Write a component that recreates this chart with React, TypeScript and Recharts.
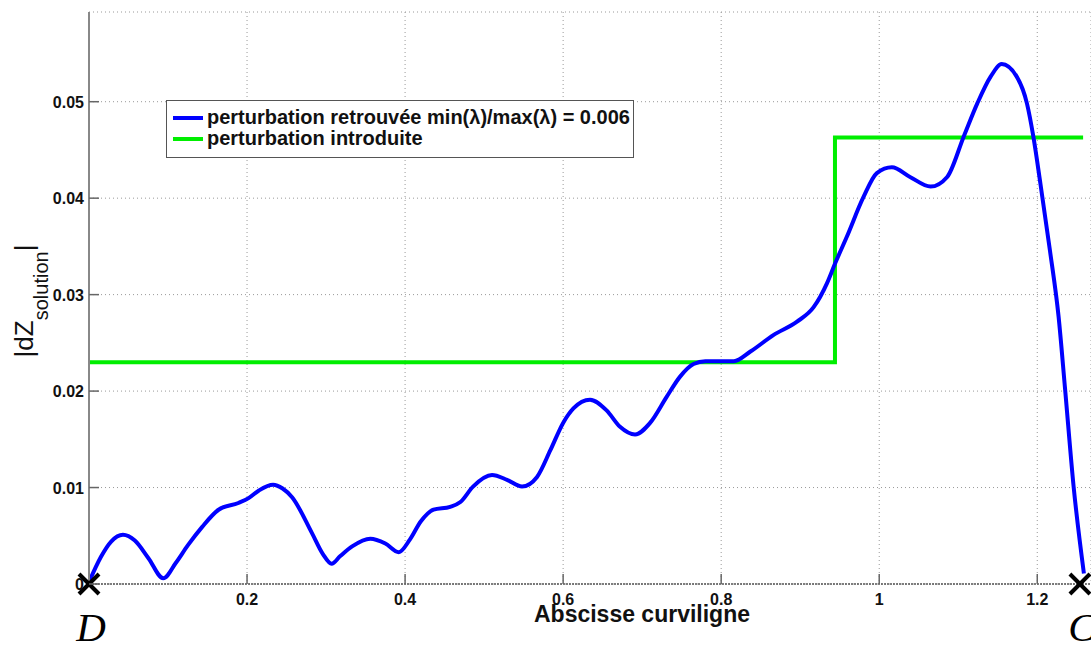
import React from 'react';
import { ComposedChart, Line, Scatter, XAxis, YAxis, CartesianGrid, Legend } from 'recharts';

// abscisse curviligne / |dZ|
const retrouveeX = [
  0, 0.015, 0.028, 0.043, 0.058, 0.075, 0.094, 0.11, 0.125, 0.143, 0.164, 0.189, 0.202, 0.215, 0.233,
  0.245, 0.257, 0.282, 0.296, 0.307, 0.318, 0.333, 0.356, 0.375, 0.392, 0.406, 0.42, 0.436, 0.457, 0.47,
  0.486, 0.51, 0.529, 0.548, 0.567, 0.584, 0.6, 0.613, 0.634, 0.655, 0.672, 0.691, 0.71, 0.731, 0.748,
  0.765, 0.78, 0.816, 0.837, 0.866, 0.896, 0.917, 0.934, 0.944, 0.959, 0.98, 0.997, 1.016, 1.039, 1.065,
  1.086, 1.107, 1.124, 1.141, 1.155, 1.174, 1.187, 1.195, 1.204, 1.216, 1.227, 1.235, 1.246, 1.259,
];
const retrouveeY = [
  0.0002, 0.0028, 0.0044, 0.0051, 0.0045, 0.0027, 0.0006, 0.0022, 0.004, 0.0059, 0.0077, 0.0084, 0.0089, 0.0097, 0.0103,
  0.0099, 0.009, 0.0053, 0.0031, 0.0021, 0.0029, 0.0039, 0.0047, 0.0042, 0.0033, 0.0046, 0.0065, 0.0077, 0.008, 0.0085,
  0.0101, 0.0113, 0.0108, 0.0101, 0.0111, 0.0139, 0.0167, 0.0182, 0.0191, 0.018, 0.0163, 0.0155, 0.0167, 0.0194, 0.0215,
  0.0228, 0.0231, 0.0231, 0.0241, 0.0258, 0.0272, 0.0287, 0.0312, 0.0332, 0.036, 0.0401, 0.0426, 0.0432, 0.0422, 0.0412,
  0.0422, 0.0464, 0.0498, 0.0526, 0.0539, 0.0526, 0.0498, 0.0464, 0.0415, 0.0346, 0.0277, 0.0204, 0.0101, 0.0011,
];

const introduiteX = [0, 0.944, 0.944, 1.258];
const introduiteY = [0.023, 0.023, 0.0463, 0.0463];

const pointNames = ['D', 'C'];
const pointX = [0, 1.254];

const xTicks = [0.2, 0.4, 0.6, 0.8, 1, 1.2];
const xTickLabels = ['0.2', '0.4', '0.6', '0.8', '1', '1.2'];
const yTicks = [0, 0.01, 0.02, 0.03, 0.04, 0.05];
const yTickLabels = ['0', '0.01', '0.02', '0.03', '0.04', '0.05'];

const retrouvee = retrouveeX.map((x, i) => ({ x, y: retrouveeY[i] }));
const introduite = introduiteX.map((x, i) => ({ x, y: introduiteY[i] }));
const points = pointX.map((x, i) => ({ x, y: 0, name: pointNames[i] }));

const SANS = '"Liberation Sans", Arial, sans-serif';

const XTick = (props: any) => {
  const { x, y, payload } = props;
  const i = xTicks.indexOf(payload.value);
  return (
    <g>
      <line x1={x} x2={x} y1={y} y2={y - 10} stroke="#666" strokeWidth={1.5} />
      <text x={x} y={y + 21} textAnchor="middle" fontFamily={SANS} fontWeight="bold" fontSize={16} fill="#111">
        {i >= 0 ? xTickLabels[i] : ''}
      </text>
    </g>
  );
};

const YTick = (props: any) => {
  const { x, y, payload } = props;
  const i = yTicks.indexOf(payload.value);
  return (
    <g>
      <line x1={x} x2={x + 10} y1={y} y2={y} stroke="#666" strokeWidth={1.5} />
      <text x={x - 5} y={y + 6} textAnchor="end" fontFamily={SANS} fontWeight="bold" fontSize={16} fill="#111">
        {i >= 0 ? yTickLabels[i] : ''}
      </text>
    </g>
  );
};

const Marker = (props: any) => {
  const { cx, cy, payload } = props;
  const r = 10;
  return (
    <g>
      <line x1={cx - r} y1={cy - r} x2={cx + r} y2={cy + r} stroke="#000" strokeWidth={4} />
      <line x1={cx - r} y1={cy + r} x2={cx + r} y2={cy - r} stroke="#000" strokeWidth={4} />
      <text
        x={cx + 2}
        y={cy + 57}
        textAnchor="middle"
        fontFamily='"Liberation Serif", "Times New Roman", serif'
        fontStyle="italic"
        fontSize={41}
        fill="#000"
      >
        {payload?.name}
      </text>
    </g>
  );
};

const YLabel = () => (
  <text
    x={33}
    y={301}
    transform="rotate(-90, 33, 301)"
    textAnchor="middle"
    fontFamily={SANS}
    fill="#111"
  >
    <tspan fontSize={26}>|dZ</tspan>
    <tspan fontSize={20} dy={15}>solution</tspan>
    <tspan fontSize={26} dy={-15}>|</tspan>
  </text>
);

const LegendBox = () => (
  <div
    style={{
      border: '1px solid #555',
      background: '#fff',
      width: 468,
      height: 58,
      boxSizing: 'border-box',
      padding: '6px 0 0 6px',
      fontFamily: SANS,
      fontWeight: 'bold',
      fontSize: 20,
      color: '#111',
      lineHeight: '21px',
    }}
  >
    {[
      { color: '#0000ff', text: 'perturbation retrouvée min(λ)/max(λ) = 0.006' },
      { color: '#00ee00', text: 'perturbation introduite' },
    ].map((row) => (
      <div key={row.text} style={{ display: 'flex', alignItems: 'center', whiteSpace: 'nowrap' }}>
        <span style={{ display: 'inline-block', width: 30, height: 4, background: row.color, marginRight: 4 }} />
        <span>{row.text}</span>
      </div>
    ))}
  </div>
);

export default function App() {
  return (
    <div style={{ position: 'absolute', left: 0, top: 0, width: 1091, height: 645, background: '#fff' }}>
      <ComposedChart width={1091} height={645} margin={{ top: 12, right: 0, bottom: 0, left: 0 }}>
        <CartesianGrid stroke="#999" strokeDasharray="1 3" />
        <XAxis
          dataKey="x"
          type="number"
          domain={[0, 1.268]}
          ticks={xTicks}
          height={61}
          tickSize={0}
          tickMargin={0}
          tick={<XTick />}
          axisLine={{ stroke: '#555', strokeWidth: 1.5, strokeDasharray: '2 1' }}
          label={{
            value: 'Abscisse curviligne',
            position: 'insideBottom',
            content: () => (
              <text x={642} y={622} textAnchor="middle" fontFamily={SANS} fontWeight="bold" fontSize={23} fill="#111">
                Abscisse curviligne
              </text>
            ),
          }}
        />
        <YAxis
          dataKey="y"
          type="number"
          domain={[0, 0.0593]}
          ticks={yTicks}
          width={89}
          tickSize={0}
          tickMargin={0}
          tick={<YTick />}
          axisLine={{ stroke: '#888', strokeWidth: 2 }}
          label={{ value: '|dZ solution|', content: () => <YLabel /> }}
        />
        <Legend
          layout="horizontal"
          verticalAlign="middle"
          align="center"
          wrapperStyle={{ position: 'absolute', left: 166, top: 100, width: 'auto' }}
          content={() => <LegendBox />}
        />
        <Line
          data={introduite}
          dataKey="y"
          type="linear"
          stroke="#00ee00"
          strokeWidth={4}
          dot={false}
          isAnimationActive={false}
        />
        <Line
          data={retrouvee}
          dataKey="y"
          type="monotone"
          stroke="#0000ff"
          strokeWidth={4}
          dot={false}
          isAnimationActive={false}
        />
        <Scatter data={points} dataKey="y" shape={<Marker />} isAnimationActive={false} />
      </ComposedChart>
    </div>
  );
}
